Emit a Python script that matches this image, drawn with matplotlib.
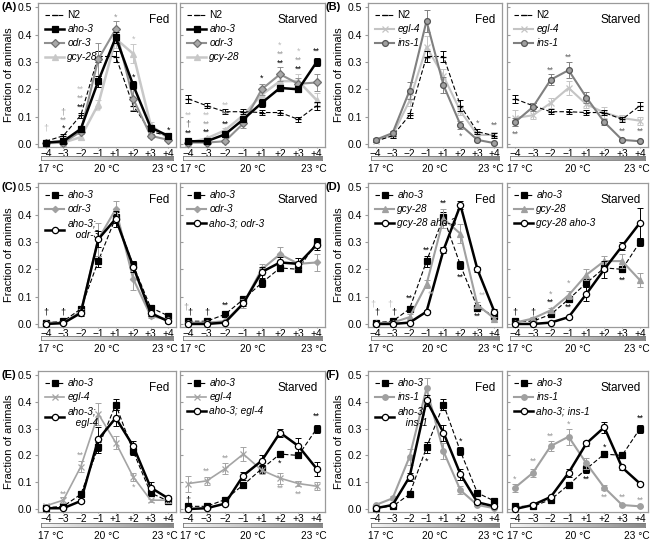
import numpy as np
import matplotlib
matplotlib.use("Agg")
import matplotlib.pyplot as plt
from matplotlib.colors import LinearSegmentedColormap

plt.rcParams['font.family'] = ['Liberation Sans', 'DejaVu Sans']

# x axis categories
x_labels = ['\u22124', '\u22123', '\u22122', '\u22121', '+1', '+2', '+3', '+4']

# fed / starved values (fraction of animals) and error bars
n2_fed = [0.01, 0.03, 0.105, 0.32, 0.32, 0.14, 0.045, 0.03]
n2_fed_err = [0.003, 0.008, 0.01, 0.02, 0.02, 0.02, 0.008, 0.01]
n2_starved = [0.165, 0.14, 0.118, 0.118, 0.115, 0.115, 0.09, 0.14]
n2_starved_err = [0.015, 0.01, 0.01, 0.01, 0.01, 0.01, 0.008, 0.015]

aho3_fed = [0.005, 0.01, 0.055, 0.23, 0.39, 0.215, 0.06, 0.03]
aho3_fed_err = [0.002, 0.005, 0.01, 0.02, 0.02, 0.015, 0.008, 0.005]
aho3_starved = [0.01, 0.01, 0.035, 0.09, 0.15, 0.205, 0.2, 0.30]
aho3_starved_err = [0.003, 0.003, 0.007, 0.01, 0.015, 0.012, 0.01, 0.015]

odr3_fed = [0.005, 0.005, 0.045, 0.31, 0.42, 0.165, 0.03, 0.015]
odr3_fed_err = [0.002, 0.003, 0.01, 0.06, 0.03, 0.04, 0.008, 0.005]
odr3_starved = [0.005, 0.005, 0.01, 0.075, 0.20, 0.255, 0.22, 0.225]
odr3_starved_err = [0.002, 0.002, 0.005, 0.015, 0.02, 0.025, 0.02, 0.03]

gcy28_fed = [0.003, 0.005, 0.025, 0.145, 0.385, 0.33, 0.07, 0.02]
gcy28_fed_err = [0.002, 0.003, 0.01, 0.015, 0.035, 0.035, 0.01, 0.005]
gcy28_starved = [0.005, 0.02, 0.05, 0.105, 0.18, 0.23, 0.23, 0.16]
gcy28_starved_err = [0.003, 0.005, 0.01, 0.015, 0.02, 0.02, 0.025, 0.025]

egl4_fed = [0.012, 0.033, 0.158, 0.355, 0.248, 0.12, 0.033, 0.033]
egl4_fed_err = [0.005, 0.01, 0.02, 0.04, 0.025, 0.015, 0.005, 0.01]
egl4_starved = [0.095, 0.105, 0.15, 0.205, 0.145, 0.115, 0.095, 0.085]
egl4_starved_err = [0.03, 0.015, 0.02, 0.025, 0.015, 0.02, 0.01, 0.015]

ins1_fed = [0.015, 0.04, 0.195, 0.45, 0.215, 0.07, 0.015, 0.003]
ins1_fed_err = [0.005, 0.008, 0.03, 0.04, 0.03, 0.015, 0.005, 0.003]
ins1_starved = [0.08, 0.135, 0.235, 0.27, 0.17, 0.08, 0.015, 0.01]
ins1_starved_err = [0.015, 0.015, 0.02, 0.03, 0.02, 0.01, 0.003, 0.003]

aho3_odr3_fed = [0.0, 0.003, 0.04, 0.31, 0.385, 0.21, 0.04, 0.01]
aho3_odr3_fed_err = [0.002, 0.002, 0.01, 0.03, 0.03, 0.02, 0.01, 0.005]
aho3_odr3_starved = [0.0, 0.0, 0.005, 0.075, 0.19, 0.225, 0.22, 0.29]
aho3_odr3_starved_err = [0.002, 0.002, 0.003, 0.01, 0.02, 0.02, 0.02, 0.02]

gcy28_aho3_fed = [0.0, 0.0, 0.005, 0.045, 0.27, 0.435, 0.2, 0.045]
gcy28_aho3_fed_err = [0.002, 0.002, 0.003, 0.005, 0.01, 0.015, 0.01, 0.008]
gcy28_aho3_starved = [0.0, 0.0, 0.005, 0.025, 0.11, 0.2, 0.285, 0.37]
gcy28_aho3_starved_err = [0.002, 0.002, 0.002, 0.005, 0.025, 0.03, 0.015, 0.055]

aho3_egl4_fed = [0.003, 0.003, 0.03, 0.26, 0.34, 0.235, 0.08, 0.04]
aho3_egl4_fed_err = [0.003, 0.003, 0.008, 0.045, 0.03, 0.02, 0.02, 0.01]
aho3_egl4_starved = [0.0, 0.003, 0.02, 0.125, 0.18, 0.285, 0.235, 0.15]
aho3_egl4_starved_err = [0.002, 0.002, 0.005, 0.015, 0.02, 0.015, 0.03, 0.025]

aho3_ins1_fed = [0.003, 0.015, 0.12, 0.405, 0.285, 0.13, 0.025, 0.01]
aho3_ins1_fed_err = [0.003, 0.005, 0.015, 0.02, 0.03, 0.02, 0.005, 0.003]
aho3_ins1_starved = [0.0, 0.015, 0.045, 0.135, 0.245, 0.305, 0.155, 0.095]
aho3_ins1_starved_err = [0.002, 0.003, 0.005, 0.015, 0.01, 0.02, 0.01, 0.005]

series = {
    'N2': (n2_fed, n2_fed_err, n2_starved, n2_starved_err),
    'aho-3': (aho3_fed, aho3_fed_err, aho3_starved, aho3_starved_err),
    'odr-3': (odr3_fed, odr3_fed_err, odr3_starved, odr3_starved_err),
    'gcy-28': (gcy28_fed, gcy28_fed_err, gcy28_starved, gcy28_starved_err),
    'egl-4': (egl4_fed, egl4_fed_err, egl4_starved, egl4_starved_err),
    'ins-1': (ins1_fed, ins1_fed_err, ins1_starved, ins1_starved_err),
    'aho-3; odr-3': (aho3_odr3_fed, aho3_odr3_fed_err, aho3_odr3_starved, aho3_odr3_starved_err),
    'gcy-28 aho-3': (gcy28_aho3_fed, gcy28_aho3_fed_err, gcy28_aho3_starved, gcy28_aho3_starved_err),
    'aho-3; egl-4': (aho3_egl4_fed, aho3_egl4_fed_err, aho3_egl4_starved, aho3_egl4_starved_err),
    'aho-3; ins-1': (aho3_ins1_fed, aho3_ins1_fed_err, aho3_ins1_starved, aho3_ins1_starved_err),
}

# line styles
styles = {
    'n2': dict(color='k', ls=(0, (4, 2)), lw=0.8, marker='_', ms=5, mfc='k', mec='k', z=3),
    'aho_solid': dict(color='k', ls='-', lw=1.8, marker='s', ms=4.5, mfc='k', mec='k', z=5),
    'aho_dash': dict(color='k', ls=(0, (4, 2)), lw=0.8, marker='s', ms=4.5, mfc='k', mec='k', z=3),
    'odr_a': dict(color='#909090', ls='-', lw=1.5, marker='D', ms=3.8, mfc='#a8a8a8', mec='#707070', z=4),
    'odr_c': dict(color='#a0a0a0', ls='-', lw=1.5, marker='D', ms=3.2, mfc='#a0a0a0', mec='#a0a0a0', z=4),
    'gcy_light': dict(color='#c8c8c8', ls='-', lw=1.8, marker='^', ms=4.5, mfc='#c8c8c8', mec='#c8c8c8', z=2),
    'gcy_gray': dict(color='#a0a0a0', ls='-', lw=1.5, marker='^', ms=4.5, mfc='#a0a0a0', mec='#a0a0a0', z=4),
    'egl_light': dict(color='#c4c4c4', ls='-', lw=1.5, marker='x', ms=4, mfc='#c4c4c4', mec='#c4c4c4', z=2),
    'egl_gray': dict(color='#a4a4a4', ls='-', lw=1.2, marker='x', ms=4, mfc='#a4a4a4', mec='#a4a4a4', z=4),
    'ins_dark': dict(color='#808080', ls='-', lw=1.5, marker='o', ms=4.2, mfc='#a0a0a0', mec='#555555', z=4),
    'ins_gray': dict(color='#a0a0a0', ls='-', lw=1.5, marker='o', ms=4, mfc='#a0a0a0', mec='#a0a0a0', z=4),
    'double': dict(color='k', ls='-', lw=1.8, marker='o', ms=4.5, mfc='white', mec='k', z=6),
}

panels = {
    'A': [('N2', 'n2'), ('aho-3', 'aho_solid'), ('odr-3', 'odr_a'), ('gcy-28', 'gcy_light')],
    'B': [('N2', 'n2'), ('egl-4', 'egl_light'), ('ins-1', 'ins_dark')],
    'C': [('aho-3', 'aho_dash'), ('odr-3', 'odr_c'), ('aho-3; odr-3', 'double')],
    'D': [('aho-3', 'aho_dash'), ('gcy-28', 'gcy_gray'), ('gcy-28 aho-3', 'double')],
    'E': [('aho-3', 'aho_dash'), ('egl-4', 'egl_gray'), ('aho-3; egl-4', 'double')],
    'F': [('aho-3', 'aho_dash'), ('ins-1', 'ins_gray'), ('aho-3; ins-1', 'double')],
}

# significance marks: panel, condition, x index, y, text, colour
sig_colors = {'k': 'k', 'g': '#999999', 'lg': '#bbbbbb', 'dg': '#666666'}
marks = [
    ('A', 'fed', 0, 0.06, '\u2020', 'lg'),
    ('A', 'fed', 1, 0.118, '\u2020', 'g'), ('A', 'fed', 1, 0.087, '**', 'g'), ('A', 'fed', 1, 0.056, '*', 'k'),
    ('A', 'fed', 2, 0.202, '**', 'lg'), ('A', 'fed', 2, 0.169, '**', 'g'), ('A', 'fed', 2, 0.136, '**', 'k'),
    ('A', 'fed', 3, 0.118, '**', 'lg'),
    ('A', 'fed', 4, 0.465, '*', 'g'),
    ('A', 'fed', 5, 0.382, '*', 'lg'), ('A', 'fed', 5, 0.245, '*', 'k'),
    ('A', 'fed', 7, 0.05, '*', 'k'),
    ('A', 'starved', 0, 0.104, '**', 'lg'), ('A', 'starved', 0, 0.073, '\u2020', 'dg'), ('A', 'starved', 0, 0.04, '**', 'k'),
    ('A', 'starved', 1, 0.104, '**', 'lg'), ('A', 'starved', 1, 0.073, '**', 'g'), ('A', 'starved', 1, 0.042, '**', 'k'),
    ('A', 'starved', 2, 0.14, '**', 'lg'), ('A', 'starved', 2, 0.107, '**', 'g'), ('A', 'starved', 2, 0.074, '**', 'k'),
    ('A', 'starved', 4, 0.24, '*', 'k'),
    ('A', 'starved', 5, 0.36, '*', 'lg'), ('A', 'starved', 5, 0.327, '**', 'g'), ('A', 'starved', 5, 0.294, '**', 'k'),
    ('A', 'starved', 6, 0.338, '*', 'lg'), ('A', 'starved', 6, 0.305, '**', 'g'), ('A', 'starved', 6, 0.272, '**', 'k'),
    ('A', 'starved', 7, 0.34, '**', 'k'),
    ('B', 'fed', 5, 0.03, '*', 'dg'), ('B', 'fed', 6, 0.075, '*', 'dg'), ('B', 'fed', 7, 0.068, '**', 'dg'),
    ('B', 'starved', 0, 0.035, '**', 'dg'), ('B', 'starved', 2, 0.27, '**', 'dg'), ('B', 'starved', 3, 0.318, '**', 'dg'),
    ('B', 'starved', 6, 0.045, '**', 'dg'), ('B', 'starved', 7, 0.045, '**', 'dg'),
    ('C', 'fed', 0, 0.045, '\u2020', 'k'), ('C', 'fed', 1, 0.045, '\u2020', 'k'),
    ('C', 'starved', -0.15, 0.062, '\u2020', 'g'), ('C', 'starved', 0.1, 0.045, '\u2020', 'k'),
    ('C', 'starved', 1, 0.045, '\u2020', 'k'), ('C', 'starved', 2, 0.067, '**', 'k'),
    ('D', 'fed', -0.15, 0.072, '\u2020', 'lg'), ('D', 'fed', 0.1, 0.045, '\u2020', 'k'),
    ('D', 'fed', 0.85, 0.072, '\u2020', 'lg'), ('D', 'fed', 1.1, 0.045, '\u2020', 'k'),
    ('D', 'fed', 2, 0.093, '**', 'k'), ('D', 'fed', 3, 0.27, '**', 'k'), ('D', 'fed', 3.3, 0.11, '**', 'lg'),
    ('D', 'fed', 4, 0.44, '**', 'k'), ('D', 'fed', 5, 0.172, '**', 'k'),
    ('D', 'fed', 6.3, 0.105, '**', 'lg'), ('D', 'fed', 6, 0.03, '**', 'k'),
    ('D', 'starved', 0, 0.045, '\u2020', 'k'), ('D', 'starved', 1, 0.045, '\u2020', 'k'),
    ('D', 'starved', 2, 0.11, '*', 'g'), ('D', 'starved', 2, 0.078, '**', 'k'),
    ('D', 'starved', 3, 0.15, '*', 'g'), ('D', 'starved', 3, 0.063, '**', 'k'),
    ('D', 'starved', 6, 0.16, '**', 'k'),
    ('E', 'fed', 1, 0.055, '**', 'g'), ('E', 'fed', 2, 0.2, '**', 'g'), ('E', 'fed', 5, 0.082, '*', 'g'),
    ('E', 'starved', 0, 0.035, '\u2020', 'k'), ('E', 'starved', 1, 0.142, '**', 'g'), ('E', 'starved', 2, 0.19, '**', 'g'),
    ('E', 'starved', 5, 0.172, '*', 'k'), ('E', 'starved', 5, 0.076, '**', 'g'), ('E', 'starved', 6, 0.055, '**', 'g'),
    ('E', 'starved', 7, 0.345, '**', 'k'),
    ('F', 'fed', 3, 0.18, '*', 'k'), ('F', 'fed', 5, 0.252, '*', 'k'),
    ('F', 'starved', 0, 0.112, '*', 'g'), ('F', 'starved', 1, 0.18, '**', 'g'), ('F', 'starved', 2, 0.27, '**', 'g'),
    ('F', 'starved', 3, 0.318, '*', 'g'), ('F', 'starved', 4, 0.113, '**', 'k'), ('F', 'starved', 5, 0.232, '*', 'k'),
    ('F', 'starved', 5, 0.043, '**', 'g'), ('F', 'starved', 6, 0.043, '**', 'g'), ('F', 'starved', 7, 0.032, '**', 'g'),
    ('F', 'starved', 7, 0.338, '**', 'k'),
]

W, H = 653, 543
fig = plt.figure(figsize=(W / 100, H / 100), dpi=100)


def px_axes(x0, y0, x1, y1):
    return fig.add_axes([x0 / W, 1 - y1 / H, (x1 - x0) / W, (y1 - y0) / H])


cols = {0: [(38, 176), (180, 325)], 1: [(368, 502), (507, 648)]}
rows = [(3.2, 146.7, 156, 169), (183.2, 326.7, 336, 349), (371, 511.7, 523, 536)]
layout = {'A': (0, 0), 'B': (0, 1), 'C': (1, 0), 'D': (1, 1), 'E': (2, 0), 'F': (2, 1)}

grad_cmap = LinearSegmentedColormap.from_list('grad', ['#f6f6f6', '#888888'])
spine_col = '#9a9a9a'
xs = np.arange(8)

for pname, (r, c) in layout.items():
    top, bot, bar_y, temp_y = rows[r]
    for k, cond in enumerate(['fed', 'starved']):
        x0, x1 = cols[c][k]
        ax = px_axes(x0, top, x1, bot)
        for name, skey in panels[pname]:
            st = styles[skey]
            fed, fed_err, stv, stv_err = series[name]
            vals, err = (fed, fed_err) if cond == 'fed' else (stv, stv_err)
            label = name
            if name in ('aho-3; odr-3', 'aho-3; egl-4', 'aho-3; ins-1') and cond == 'fed':
                label = name.replace('; ', ';\n   ')
            ax.errorbar(xs, vals, yerr=err, fmt='none', ecolor=st['color'], elinewidth=0.7,
                        capsize=2, capthick=0.7, zorder=st['z'] - 0.5)
            ax.plot(xs, vals, color=st['color'], ls=st['ls'], lw=st['lw'], marker=st['marker'],
                    ms=st['ms'], mfc=st['mfc'], mec=st['mec'], mew=0.9, zorder=st['z'],
                    label=label)
        for p, cd, xi, yv, txt, col in marks:
            if p == pname and cd == cond:
                ax.text(xi, yv, txt, ha='center', va='center', fontsize=6.5,
                        color=sig_colors[col], zorder=8)
        ax.set_xlim(-0.45, 7.45)
        ax.set_ylim(-0.01, 0.515)
        ax.set_xticks(xs)
        ax.set_xticklabels(x_labels, fontsize=7.3)
        ax.set_yticks([0, 0.1, 0.2, 0.3, 0.4, 0.5])
        for s in ax.spines.values():
            s.set_color(spine_col)
            s.set_linewidth(0.9)
        ax.tick_params(axis='x', length=1, pad=0.5, color=spine_col)
        if cond == 'fed':
            ax.set_yticklabels(['0.0', '0.1', '0.2', '0.3', '0.4', '0.5'], fontsize=7.5)
            ax.tick_params(axis='y', length=2, pad=2, color=spine_col)
            ax.set_ylabel('Fraction of animals', fontsize=8, labelpad=3)
            title = 'Fed'
        else:
            ax.set_yticklabels([])
            ax.tick_params(axis='y', direction='in', length=2, color=spine_col)
            title = 'Starved'
        ax.text(0.95, 0.925, title, transform=ax.transAxes, ha='right', va='top', fontsize=8.5)
        ax.legend(loc='upper left', frameon=False, handlelength=1.9,
                  handletextpad=0.3, labelspacing=0.4, borderaxespad=0.4,
                  borderpad=0.3, prop={'style': 'italic', 'size': 7.3})
        leg = ax.get_legend()
        for t in leg.get_texts():
            if t.get_text() == 'N2':
                t.set_fontstyle('normal')

        # temperature gradient bar
        bx0, bx1 = x0 + 3, x1 - 3
        bax = px_axes(bx0, bar_y, bx1, bar_y + 4)
        bax.imshow(np.linspace(0, 1, 256)[None, :], aspect='auto', cmap=grad_cmap,
                   extent=[0, 1, 0, 1])
        bax.set_xticks([])
        bax.set_yticks([])
        for s in bax.spines.values():
            s.set_color('#777777')
            s.set_linewidth(0.6)
        ty = 1 - temp_y / H
        fig.text((bx0 - 3) / W, ty, '17 \u00b0C', ha='left', va='center', fontsize=7.3)
        fig.text((bx0 + bx1) / 2 / W, ty, '20 \u00b0C', ha='center', va='center', fontsize=7.3)
        fig.text((bx1 + 4.5) / W, ty, '23 \u00b0C', ha='right', va='center', fontsize=7.3)

    lx = 2 if c == 0 else 326
    fig.text(lx / W, 1 - (top + 4) / H, '(' + pname + ')', fontsize=8, fontweight='bold',
             ha='left', va='center')

fig.savefig('out.png', dpi=100)
